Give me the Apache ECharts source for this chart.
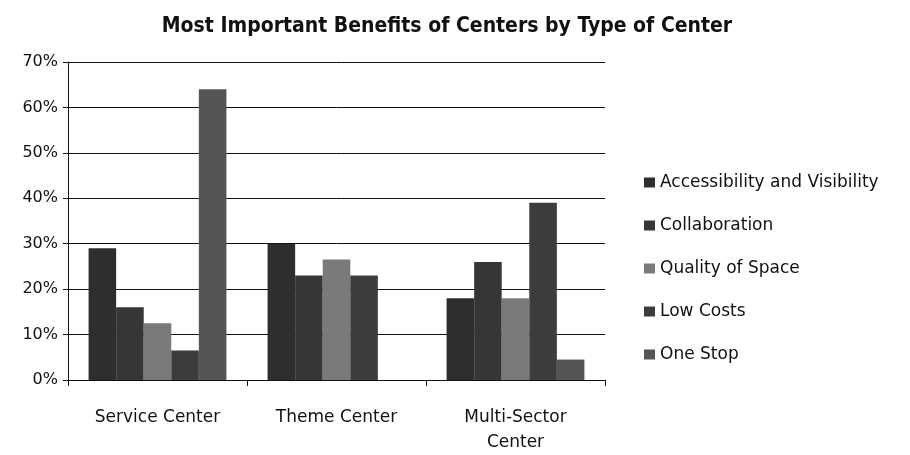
<!DOCTYPE html>
<html lang="en">
<head>
    <meta charset="UTF-8">
    <title>Most Important Benefits of Centers</title>
    <script src="https://cdn.jsdelivr.net/npm/echarts@6/dist/echarts.min.js"></script>
</head>
<body style="margin:0;background:#fff">
    <div id="main" style="width: 910px;height: 455px"></div>
    <script type="application/javascript">
        var categories = ['Service Center', 'Theme Center', 'Multi-Sector\nCenter'];
        var seriesNames = ['Accessibility and Visibility', 'Collaboration', 'Quality of Space', 'Low Costs', 'One Stop'];
        var accessibility = [29, 30, 18];
        var collaboration = [16, 23, 26];
        var quality = [12.5, 26.5, 18];
        var lowCosts = [6.5, 23, 39];
        var oneStop = [64, 0, 4.5];
        var colors = ['#2e2e2e', '#363636', '#7a7a7a', '#3c3c3c', '#555555'];

        var myChart = echarts.init(document.getElementById('main'));
        var values = [accessibility, collaboration, quality, lowCosts, oneStop];
        var font = '"DejaVu Sans", sans-serif';

        var series = [];
        for (var i = 0; i < seriesNames.length; i++) {
            series.push({
                name: seriesNames[i],
                type: 'bar',
                data: values[i],
                barGap: '0%',
                barCategoryGap: '23%',
                itemStyle: {color: colors[i]}
            });
        }

        var option = {
            animation: false,
            title: {
                text: 'Most Important Benefits of Centers by Type of Center',
                left: 442,
                textAlign: 'center',
                top: 11,
                textStyle: {fontFamily: '"DejaVu Sans Condensed", "DejaVu Sans", sans-serif', fontSize: 21, fontWeight: 'bold', color: '#111'}
            },
            legend: {
                orient: 'vertical',
                left: 639,
                top: 169,
                itemGap: 26,
                itemWidth: 11,
                itemHeight: 10,
                icon: 'rect',
                textStyle: {fontFamily: font, fontSize: 17, color: '#111'},
                data: seriesNames
            },
            grid: {
                left: 68,
                right: 305,
                top: 62,
                bottom: 75
            },
            xAxis: {
                type: 'category',
                data: categories,
                axisLine: {lineStyle: {color: '#111', width: 1}},
                axisTick: {show: true, length: 6, lineStyle: {color: '#111'}},
                axisLabel: {fontFamily: font, fontSize: 17, color: '#111', margin: 25, lineHeight: 25}
            },
            yAxis: {
                type: 'value',
                min: 0,
                max: 70,
                interval: 10,
                axisLine: {show: true, lineStyle: {color: '#111'}},
                axisTick: {show: true, length: 5, lineStyle: {color: '#111'}},
                splitLine: {lineStyle: {color: '#111', width: 1}},
                axisLabel: {fontFamily: font, fontSize: 16, color: '#111', margin: 10, formatter: '{value}%'}
            },
            series: series
        };
        myChart.setOption(option);
    </script>
</body>
</html>
